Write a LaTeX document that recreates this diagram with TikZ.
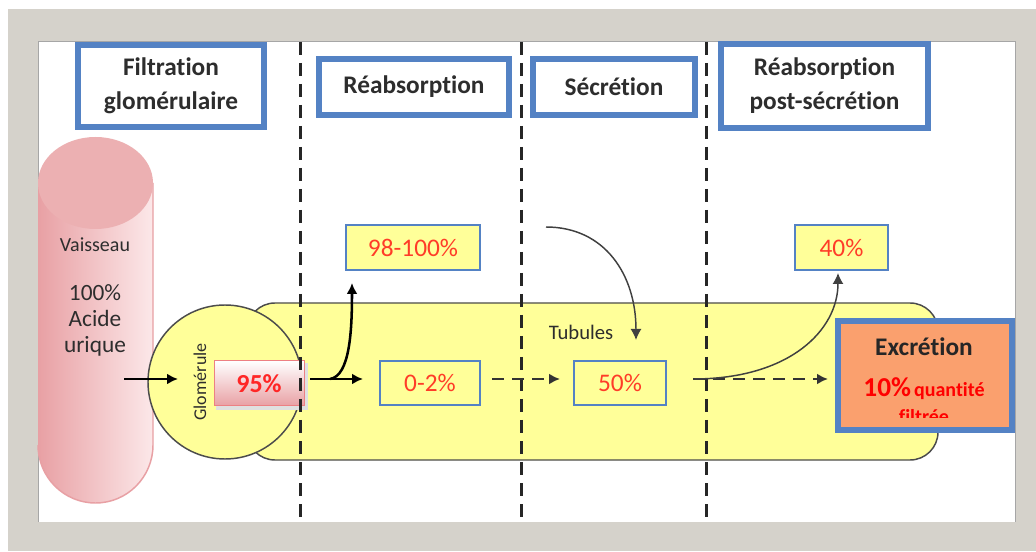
\documentclass[tikz,border=0pt]{standalone}
\usepackage{fontspec}
\setmainfont{Carlito}[Ligatures=NoCommon]
\usetikzlibrary{arrows.meta,shapes.geometric}
\newdimen\pxu \pxu=0.75pt
\definecolor{framegray}{RGB}{213,210,203}
\definecolor{hblue}{RGB}{84,130,196}
\definecolor{tyellow}{RGB}{255,255,153}
\definecolor{pred}{RGB}{255,60,40}
\definecolor{excor}{RGB}{250,160,110}
\definecolor{pinkA}{RGB}{232,160,164}
\definecolor{pinkB}{RGB}{252,232,233}
\definecolor{pinkTop}{RGB}{236,176,178}
\definecolor{txtgray}{RGB}{45,45,45}
\tikzset{
  header/.style={draw=hblue, line width=4.5pt, fill=white, align=center,
    font=\bfseries\fontsize{19}{25.5}\selectfont, text=txtgray, inner sep=0pt},
  pbox/.style={draw=hblue, line width=1.5pt, fill=tyellow, text=pred,
    font=\fontsize{19}{22}\selectfont, inner sep=0pt},
  arr/.style={-{Latex[length=8.25pt,width=8.25pt]}, line width=1.9pt, black},
  darr/.style={arr, draw=black!80, dash pattern=on 9pt off 6pt},
  thinarr/.style={-{Latex[length=8.25pt,width=8.25pt]}, line width=1.1pt, draw=black!75},
  divider/.style={draw=black!85, line width=2.25pt, dash pattern=on 9.75pt off 6pt},
  plain/.style={text=txtgray, inner sep=0pt}
}
\begin{document}
\begin{tikzpicture}[x=0.75pt,y=-0.75pt]
\useasboundingbox (0,0) rectangle (1036,552);
% frame
\fill[white] (0,0) rectangle (1036,552);
\fill[framegray] (8,9) rectangle (1036,551);
\fill[white] (38,42) rectangle (1015,522);
\draw[gray!70, line width=0.75pt] (38,522) -- (38,42) -- (1015,42) -- (1015,522);
% vessel
\shade[left color=pinkA, right color=pinkB]
  (38,183) -- (38,445) arc[start angle=180, end angle=0, x radius=57.5, y radius=58] -- (153,183) -- cycle;
\draw[pinkA, line width=1.1pt] (153,183) -- (153,445) arc[start angle=0, end angle=180, x radius=57.5, y radius=58];
\fill[pinkTop] (95.5,183) ellipse [x radius=57.5, y radius=46];
\node[plain, font=\fontsize{15}{18}\selectfont] (vais) at (95,245) {Vaisseau};
\node[plain, align=center, font=\fontsize{17.5}{19.5}\selectfont] (acide) at (95,320) {100\%\\Acide\\urique};
% tubule and glomerulus
\draw[fill=tyellow, draw=black!70, line width=1.1pt, rounded corners=21pt] (247,303) rectangle (938,460);
\node[circle, draw=black!70, fill=tyellow, line width=1.1pt, minimum size=115.5pt, inner sep=0pt] (glom) at (225,382) {};
\node[plain, rotate=90, font=\fontsize{13.5}{16}\selectfont] (glab) at (200,382) {Glomérule};
\node[plain, font=\fontsize{15.5}{18}\selectfont] (tub) at (581,332) {Tubules};
% 95% box
\fill[black!12] (216,363) rectangle (308,410);
\node[draw=pinkA!80!red, line width=0.75pt, top color=white, bottom color=pinkA, minimum width=67.5pt, minimum height=33.75pt,
  inner sep=0pt, text=red!85!white, font=\bfseries\fontsize{19.5}{22}\selectfont] (b95) at (259,383.5) {95\%};
% dividers
\draw[divider] (300,42) -- (300,518);
\draw[divider] (521,42) -- (521,518);
\draw[divider] (706,42) -- (706,518);
% headers
\node[header, minimum width=186\pxu, minimum height=82\pxu] (h1) at (171,86) {Filtration\\glomérulaire};
\node[header, minimum width=190\pxu, minimum height=56\pxu] (h2) at (414,87) {Réabsorption};
\node[header, minimum width=162\pxu, minimum height=56\pxu] (h3) at (614,87) {Sécrétion};
\node[header, minimum width=207\pxu, minimum height=84\pxu] (h4) at (824.5,86) {Réabsorption\\post-sécrétion};
% percentage boxes
\node[pbox, minimum width=134\pxu, minimum height=45\pxu] (b98) at (413,247.5) {98-100\%};
\node[pbox, minimum width=93\pxu, minimum height=45\pxu] (b40) at (841.5,247.5) {40\%};
\node[pbox, minimum width=100\pxu, minimum height=44\pxu] (b02) at (430,383) {0-2\%};
\node[pbox, minimum width=92\pxu, minimum height=44\pxu] (b50) at (620,383) {50\%};
% excretion
\node[draw=hblue, line width=4.5pt, fill=excor, minimum width=174\pxu, minimum height=109\pxu, inner sep=0pt] (excr) at (925,375.5) {};
\node[anchor=base, inner sep=0pt, text=black!85, font=\bfseries\fontsize{19}{22}\selectfont] (extitle) at (924,356) {Excrétion};
\node[anchor=base, inner sep=0pt, text=red, font=\bfseries] (exq) at (924,397)
  {{\fontsize{20.5}{22}\selectfont 10\%} {\fontsize{15}{17}\selectfont quantité}};
\begin{scope}
  \clip (838,320) rectangle (1012,418);
  \node[anchor=base, inner sep=0pt, text=red, font=\bfseries\fontsize{15}{17}\selectfont] (exf) at (924,423) {filtrée};
\end{scope}
% connectors
\coordinate (vin) at (124,379);
\coordinate (gin) at (178,379);
\coordinate (o95) at (310,379);
\coordinate (i02) at (363,379);
\coordinate (br) at (330,379);
\coordinate (t98) at (352,283);
\coordinate (d1) at (492,379);
\coordinate (d2) at (560,379);
\coordinate (s0) at (546,227);
\coordinate (s1) at (636,340);
\coordinate (o50) at (693,379);
\coordinate (iex) at (828,379);
\coordinate (t40) at (838,273);
\draw[arr] (vin) -- (gin);
\draw[arr] (o95) -- (i02);
\draw[arr] (br) .. controls (350,376) and (352,330) .. (t98);
\draw[darr] (d1) -- (d2);
\draw[thinarr] (s0) .. controls (605,227) and (636,275) .. (s1);
\draw[darr] (o50) -- (iex);
\draw[thinarr] (o50) .. controls (790,379) and (838,330) .. (t40);
\end{tikzpicture}
\end{document}
